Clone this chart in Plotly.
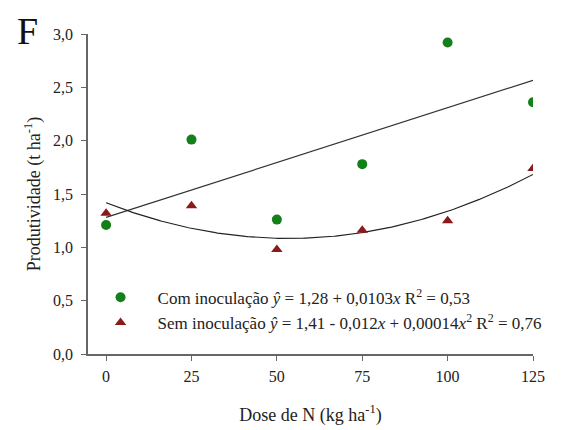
import numpy as np
import plotly.graph_objects as go

dose = [0, 25, 50, 75, 100, 125]
com_inoc = [1.21, 2.01, 1.26, 1.78, 2.92, 2.36]
sem_inoc = [1.32, 1.39, 0.98, 1.16, 1.25, 1.74]
x_ticks = [0, 25, 50, 75, 100, 125]
y_ticks = [0.0, 0.5, 1.0, 1.5, 2.0, 2.5, 3.0]

name_com = "Com inoculação <i>ŷ</i> = 1,28 + 0,0103<i>x</i> R<sup>2</sup> = 0,53"
name_sem = "Sem inoculação <i>ŷ</i> = 1,41 - 0,012<i>x</i> + 0,00014<i>x</i><sup>2</sup> R<sup>2</sup> = 0,76"

# regression curves fitted from the data
xs = np.linspace(min(dose), max(dose), 200)
p_com = np.polyfit(dose, com_inoc, 1)
p_sem = np.polyfit(dose, sem_inoc, 2)

green = "#13801a"
red = "#8b1a1a"
font = "Liberation Serif"

fig = go.Figure()
fig.add_trace(go.Scatter(x=xs, y=np.polyval(p_com, xs), mode="lines",
                         line=dict(color="#333333", width=1.2), showlegend=False, hoverinfo="skip"))
fig.add_trace(go.Scatter(x=xs, y=np.polyval(p_sem, xs), mode="lines",
                         line=dict(color="#222222", width=1.2), showlegend=False, hoverinfo="skip"))
fig.add_trace(go.Scatter(x=dose, y=com_inoc, mode="markers", name=name_com,
                         marker=dict(symbol="circle", size=10, color=green)))
fig.add_trace(go.Scatter(x=dose, y=sem_inoc, mode="markers", name=name_sem,
                         marker=dict(symbol="triangle-up", size=10, color=red)))

fig.update_layout(
    width=564, height=430,
    margin=dict(l=88, r=31, t=34, b=76),
    paper_bgcolor="white", plot_bgcolor="white",
    separators=",.",
    font=dict(family=font, size=16, color="#222222"),
    showlegend=True,
    legend=dict(x=-0.01, y=0.232, xanchor="left", yanchor="top",
                bgcolor="rgba(0,0,0,0)", font=dict(family=font, size=17, color="#222222"),
                itemwidth=64, tracegroupgap=0),
    xaxis=dict(range=[-5.3, 125], tickvals=x_ticks, ticks="outside", ticklen=5,
               showline=True, linecolor="#666666", linewidth=1.5, showgrid=False, zeroline=False,
               tickcolor="#666666", tickfont=dict(size=16), ticklabelstandoff=2, automargin=False,
               title=dict(text="Dose de N (kg ha<sup>-1</sup>)", font=dict(size=18), standoff=24)),
    yaxis=dict(range=[0, 3.0], tickvals=y_ticks, tickformat=".1f", ticks="outside", ticklen=5,
               showline=True, linecolor="#666666", linewidth=1.5, showgrid=False, zeroline=False,
               tickcolor="#666666", tickfont=dict(size=16), ticklabelstandoff=5, automargin=False,
               title=dict(text="Produtividade (t ha<sup>-1</sup>)", font=dict(size=18), standoff=8)),
    annotations=[dict(text="F", xref="paper", yref="paper", x=-0.163, y=1.01, xanchor="left",
                      yanchor="middle", showarrow=False, font=dict(family=font, size=38, color="#111111"))],
)

fig.write_html("out.html")
